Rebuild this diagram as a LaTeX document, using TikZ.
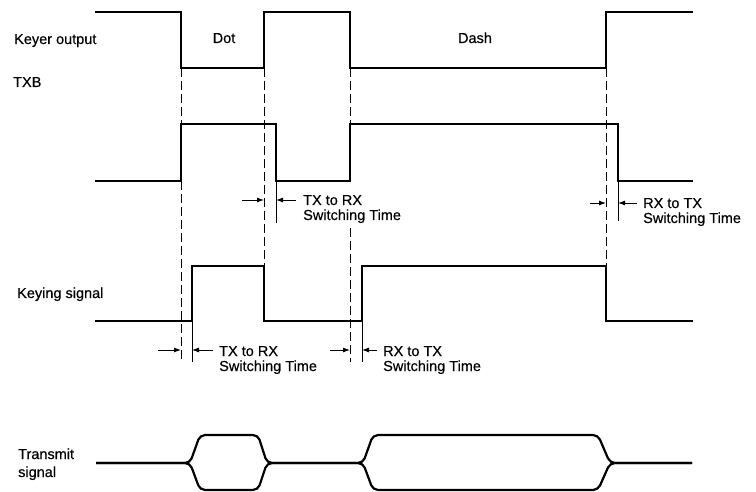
\documentclass[tikz,border=0pt]{standalone}
\usepackage{fontspec}
\setmainfont{Liberation Sans}
\newfontfamily\lblfont{Liberation Sans}[FakeBold=0.4]
\usetikzlibrary{arrows.meta}
\begin{document}
\begin{tikzpicture}[x=1pt,y=-1pt,
  sig/.style={line width=2.2pt, line join=miter, line cap=rect},
  env/.style={line width=2.2pt, rounded corners=5pt},
  guide/.style={line width=0.9pt, dash pattern=on 9pt off 4pt},
  tickline/.style={line width=0.9pt},
  marker/.style={line width=0.9pt,-{Latex[length=7pt,width=5pt]}},
  lbl/.style={font=\lblfont\fontsize{14.5}{16}\selectfont, inner sep=0pt, anchor=base west},
  lblc/.style={font=\lblfont\fontsize{14.5}{16}\selectfont, inner sep=0pt, anchor=base},
]
\useasboundingbox (0,0) rectangle (756,492);

% labels
\node[lbl] (lkey) at (14,44) {Keyer output};
\node[lblc] (ldot) at (224,43) {Dot};
\node[lblc] (ldash) at (475,43) {Dash};
\node[lbl] (ltxb) at (13,87) {TXB};
\node[lbl] (lkeying) at (17,298) {Keying signal};
\node[lbl] (ltx1) at (18,459) {Transmit};
\node[lbl] (ltx2) at (18,477) {signal};

\node[lbl] (s1a) at (303,205) {TX to RX};
\node[lbl] (s1b) at (303,220) {Switching Time};
\node[lbl] (s2a) at (643,208) {RX to TX};
\node[lbl] (s2b) at (643,223) {Switching Time};
\node[lbl] (s3a) at (219,356) {TX to RX};
\node[lbl] (s3b) at (219,371) {Switching Time};
\node[lbl] (s4a) at (383,356) {RX to TX};
\node[lbl] (s4b) at (383,371) {Switching Time};

% Keyer output
\draw[sig] (96,12) -- (181,12) -- (181,68) -- (264,68) -- (264,12) -- (350,12) -- (350,68) -- (606,68) -- (606,12) -- (692,12);
% TXB
\draw[sig] (96,181) -- (181,181) -- (181,124) -- (276,124) -- (276,181) -- (350,181) -- (350,124) -- (618,124) -- (618,181) -- (692,181);
% Keying signal
\draw[sig] (96,321) -- (192,321) -- (192,266) -- (264,266) -- (264,321) -- (362,321) -- (362,266) -- (606,266) -- (606,321) -- (692,321);
% Transmit signal
\draw[env] (96,463) -- (190,463) -- (200,435) -- (258,435) -- (267,463) -- (363,463) -- (373,435) -- (598,435) -- (610,463) -- (692,463);
\draw[env] (96,463) -- (190,463) -- (200,490) -- (258,490) -- (267,463) -- (363,463) -- (373,490) -- (598,490) -- (610,463) -- (692,463);

% guide lines
\draw[guide] (181,68) -- (181,124);
\draw[guide] (181,181) -- (181,362);
\draw[tickline] (192,321) -- (192,362);
\draw[guide] (264,68) -- (264,266);
\draw[tickline] (276,181) -- (276,223);
\draw[guide] (350,68) -- (350,124);
\draw[guide] (350,228) -- (350,362);
\draw[tickline] (362,321) -- (362,362);
\draw[guide] (606,68) -- (606,266);
\draw[tickline] (618,181) -- (618,221);

% switching-time markers
\coordinate (m1l) at (242,200); \coordinate (m1a) at (264,200);
\coordinate (m1r) at (296,200); \coordinate (m1b) at (276,200);
\coordinate (m2l) at (590,203); \coordinate (m2a) at (606,203);
\coordinate (m2r) at (637,203); \coordinate (m2b) at (618,203);
\coordinate (m3l) at (158,350); \coordinate (m3a) at (181,350);
\coordinate (m3r) at (213,350); \coordinate (m3b) at (192,350);
\coordinate (m4l) at (330,350); \coordinate (m4a) at (350,350);
\coordinate (m4r) at (377,350); \coordinate (m4b) at (362,350);
\draw[marker] (m1l) -- (m1a);
\draw[marker] (m1r) -- (m1b);
\draw[marker] (m2l) -- (m2a);
\draw[marker] (m2r) -- (m2b);
\draw[marker] (m3l) -- (m3a);
\draw[marker] (m3r) -- (m3b);
\draw[marker] (m4l) -- (m4a);
\draw[marker] (m4r) -- (m4b);
\end{tikzpicture}
\end{document}
